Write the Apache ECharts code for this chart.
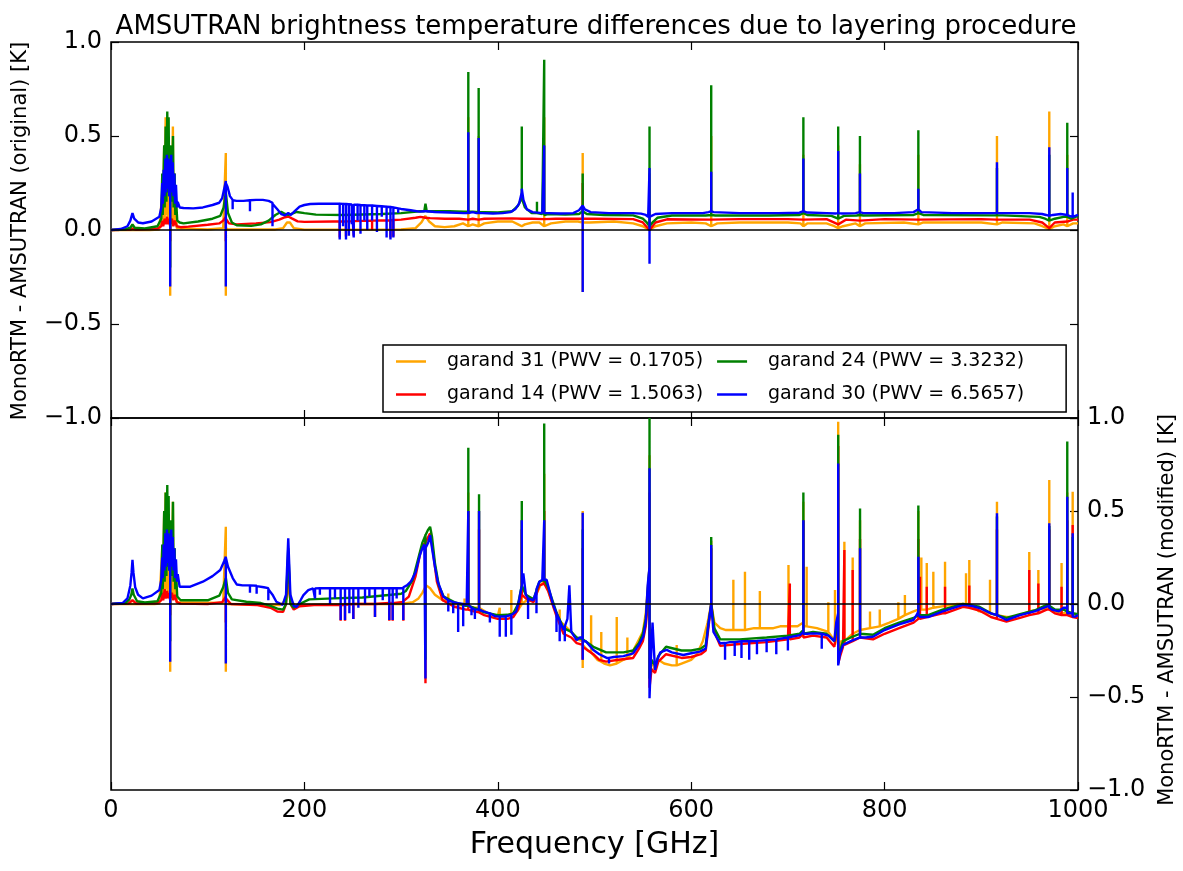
<!DOCTYPE html>
<html><head><meta charset="utf-8">
<script src="https://cdn.jsdelivr.net/npm/echarts/dist/echarts.min.js"></script>
<style>html,body{margin:0;padding:0;background:#fff}#chart{width:1183px;height:871px}</style>
</head><body><div id="chart"></div>
<script>
const SERIES_NAMES = ['garand 31 (PWV = 0.1705)','garand 14 (PWV = 1.5063)','garand 24 (PWV = 3.3232)','garand 30 (PWV = 6.5657)'];
const SERIES_COLORS = ['#FFA500','#FF0000','#008000','#0000FF'];
const X_TICKS = [0,200,400,600,800,1000];
const Y_TICKS = [-1,-0.5,0,0.5,1];
const TITLE = 'AMSUTRAN brightness temperature differences due to layering procedure';
const X_LABEL = 'Frequency [GHz]';
const Y_LABEL_TOP = 'MonoRTM - AMSUTRAN (original) [K]';
const Y_LABEL_BOTTOM = 'MonoRTM - AMSUTRAN (modified) [K]';

// ---- top panel (original) ----
const T_ORANGE = [[0,0],[40,0],[50,0.003],[52,0.01],[53,0.2],[53.5,0.03],[55,0.45],[55.5,0.05],[56.5,0.6],[57,0.08],[58,0.3],[58.5,0.05],[59.5,0.5],[60,0.1],[60.5,0.25],[61.2,0.05],[61.2,-0.35],[61.2,0.1],[62.5,0.35],[63,0.05],[64,0.55],[64.5,0.05],[65.5,0.3],[66,0.03],[67,0.15],[68,0.01],[70,0.003],
[100,0.003],[116,0.01],[118.75,0.41],[118.75,-0.35],[118.75,0.01],[121,0.003],[170,0.003],[178,0.01],[182,0.04],[183.3,0.045],[185,0.04],[189,0.01],[200,0.002],[300,0.003],[315,0.01],[321,0.04],[325,0.075],[329,0.045],[335,0.02],[345,0.015],[355,0.02],[364,0.035],[369.5,0.02],[369.5,0.6],[369.5,0.02],[374,0.03],[380.2,0.02],[380.2,0.5],[380.2,0.02],[386,0.035],[400,0.045],[415,0.045],[421,0.03],[424.8,0.02],[428,0.03],[436,0.04],[443,0.04],[448,0.02],[448,0.6],[448,0.02],[455,0.035],[470,0.045],[483,0.045],[487.8,0.04],[487.8,0.41],[487.8,-0.33],[487.8,0.04],[495,0.04],[520,0.045],[540,0.035],[550,0.02],[556.9,0.0],[556.9,0.3],[556.9,0.0],[563,0.02],[575,0.035],[600,0.04],[615,0.035],[620.7,0.02],[620.7,0.5],[620.7,0.02],[627,0.035],[650,0.04],[700,0.04],[713,0.035],[716,0.02],[716,0.4],[716,0.02],[720,0.035],[740,0.035],[748,0.02],[752,0.01],[752,0.45],[752,0.01],[757,0.02],[770,0.035],[774.5,0.02],[774.5,0.35],[774.5,0.02],[780,0.035],[820,0.04],[834.9,0.03],[834.9,0.4],[834.9,0.03],[840,0.04],[900,0.04],[916.2,0.03],[916.2,0.5],[916.2,0.03],[922,0.04],[955,0.035],[963,0.02],[970.3,0.005],[970.3,0.63],[970.3,0.005],[976,0.02],[985,0.03],[988.9,0.02],[988.9,0.4],[988.9,0.02],[995,0.035],[1000,0.035]];

const T_RED = [[0,0],[20,0.002],[22.2,0.008],[26,0.002],[48,0.008],[52,0.02],[53,0.05],[54,0.02],[55.5,0.06],[56.5,0.03],[58,0.07],[59,0.03],[60,0.06],[61.2,0.02],[61.2,-0.06],[61.2,0.03],[63,0.06],[64.5,0.02],[66,0.05],[68,0.02],[72,0.015],[80,0.018],[100,0.028],[112,0.035],[116,0.05],[118.75,0.07],[118.75,-0.06],[118.75,0.06],[122,0.035],[130,0.03],[150,0.035],[165,0.042],[174,0.055],[180,0.068],[183.3,0.072],[187,0.062],[193,0.046],[200,0.043],[230,0.045],
[236.5,0.045],[236.5,-0.04],[236.5,0.045],[243,0.046],[243,-0.035],[243,0.046],[251,0.047],[251,-0.03],[251,0.047],[270,0.05],[270,0.0],[270,0.05],[289,0.052],[289,-0.04],[289,0.052],[292,0.053],[292,-0.035],[292,0.053],
[300,0.055],[315,0.065],[320,0.07],[325.2,0.065],[330,0.063],[345,0.06],[360,0.06],[369.5,0.055],[374,0.06],[380.2,0.055],[386,0.06],[415,0.062],[424.8,0.06],[435,0.06],[448,0.058],[460,0.06],[487.8,0.06],[487.8,0.25],[487.8,0.06],[500,0.06],[540,0.058],[550,0.04],[556.9,0.0],[563,0.04],[575,0.057],[620.7,0.055],[650,0.058],[700,0.058],[716,0.055],[740,0.058],[752,0.03],[760,0.055],[774.5,0.05],[800,0.058],[834.9,0.055],[900,0.058],[916.2,0.055],[950,0.055],[963,0.04],[970.3,0.01],[976,0.04],[988.9,0.045],[995,0.055],[1000,0.055]];

const T_GREEN = [[0,0],[15,0.004],[20,0.012],[22.2,0.03],[24.5,0.012],[35,0.008],[48,0.02],[52,0.06],[53,0.3],[53.5,0.08],[55,0.45],[55.5,0.12],[56.5,0.55],[57.3,0.15],[58.2,0.63],[58.8,0.2],[59.6,0.6],[60.2,0.18],[61.2,0.4],[61.2,-0.2],[61.2,0.2],[62.3,0.45],[63,0.15],[64.1,0.5],[64.7,0.12],[65.8,0.3],[66.5,0.08],[67.4,0.15],[68.5,0.05],[71,0.04],[75,0.035],[90,0.045],[105,0.06],[113,0.075],[116.5,0.12],[118.75,0.2],[121,0.09],[125,0.04],[130,0.025],[145,0.022],[155,0.03],[163,0.05],[170,0.08],[176,0.097],[180,0.085],[183.3,0.08],[186,0.085],[192,0.096],[200,0.09],[212,0.082],[240,0.08],[280,0.085],[300,0.09],[319,0.1],[324,0.1],[325.2,0.14],[326.5,0.1],[335,0.1],[350,0.1],[365,0.098],[369.5,0.098],[369.5,0.84],[369.5,0.098],[374,0.098],[380.2,0.095],[380.2,0.755],[380.2,0.095],[386,0.095],[400,0.093],[415,0.1],[421,0.13],[424.8,0.17],[424.8,0.55],[424.8,0.17],[428,0.12],[435,0.09],[440.5,0.09],[440.5,0.15],[440.5,0.09],[446,0.085],[448,0.08],[448,0.905],[448,0.08],[452,0.085],[470,0.082],[484,0.085],[487.8,0.1],[487.8,0.3],[487.8,0.1],[492,0.085],[510,0.08],[540,0.078],[550,0.06],[554,0.04],[556.9,0.02],[556.9,0.55],[556.9,0.02],[560,0.04],[565,0.065],[580,0.077],[615,0.077],[620.7,0.08],[620.7,0.77],[620.7,0.08],[625,0.077],[680,0.077],[712,0.08],[716,0.09],[716,0.6],[716,0.09],[720,0.08],[745,0.075],[752,0.06],[752,0.55],[752,0.06],[758,0.075],[771,0.077],[774.5,0.08],[774.5,0.5],[774.5,0.08],[778,0.077],[830,0.08],[834.9,0.09],[834.9,0.53],[834.9,0.09],[840,0.08],[910,0.078],[916.2,0.078],[916.2,0.33],[916.2,0.078],[922,0.078],[960,0.07],[966,0.06],[970.3,0.05],[970.3,0.4],[970.3,0.05],[976,0.06],[985,0.07],[988.9,0.07],[988.9,0.57],[988.9,0.07],[993,0.06],[1000,0.075]];

const T_BLUE = [[0,0],[10,0.005],[17,0.02],[20,0.05],[22.2,0.09],[24,0.06],[28,0.04],[33,0.036],[42,0.045],[50,0.07],[52,0.12],[53,0.25],[53.6,0.14],[54.5,0.32],[55.3,0.18],[56.2,0.38],[57,0.2],[57.8,0.4],[58.5,0.22],[59.4,0.38],[60.2,0.18],[61.2,0.3],[61.2,-0.3],[61.2,0.25],[62.3,0.4],[63,0.2],[63.8,0.36],[64.6,0.18],[65.5,0.3],[66.3,0.14],[67.2,0.24],[68.2,0.12],[69,0.15],[71,0.12],[75,0.117],[85,0.115],[95,0.12],[105,0.133],[112,0.145],[115,0.17],[117.5,0.23],[118.75,0.26],[118.75,-0.3],[118.75,0.25],[120.5,0.23],[123,0.18],[125.8,0.16],[125.8,0.11],[125.8,0.158],[130,0.155],[137,0.155],[143.7,0.158],[143.7,0.1],[143.7,0.158],[150,0.16],[157,0.16],[163,0.155],[167,0.145],[167,0.02],[167,0.14],[172,0.11],[176,0.085],[180,0.078],[183.3,0.09],[186,0.08],[190,0.1],[195,0.124],[200,0.133],[206,0.138],[215,0.14],[230,0.14],
[236.5,0.14],[236.5,-0.05],[236.5,0.14],[240,0.139],[240,0.02],[240,0.139],[243,0.138],[243,-0.05],[243,0.138],[246,0.137],[246,-0.03],[246,0.137],[249,0.136],[249,0.03],[249,0.136],[251,0.135],[251,-0.04],[251,0.135],[255,0.134],[255,0.05],[255,0.134],[258,0.133],[258,-0.02],[258,0.133],[262,0.132],[262,0.05],[262,0.132],[265,0.131],[265,0.0],[265,0.131],[270,0.13],[270,0.05],[270,0.13],[275,0.128],[275,-0.01],[275,0.128],[280,0.126],[280,0.07],[280,0.126],[285,0.124],[285,-0.04],[285,0.124],[289,0.122],[289,-0.05],[289,0.122],[292,0.12],[292,-0.04],[292,0.12],[297,0.115],[297,0.09],[297,0.115],
[300,0.112],[310,0.105],[319,0.098],[324,0.1],[325.2,0.11],[326.5,0.1],[335,0.096],[350,0.093],[365,0.09],[369.5,0.09],[369.5,0.52],[369.5,0.09],[374,0.095],[378,0.09],[380.2,0.09],[380.2,0.49],[380.2,0.09],[384,0.09],[395,0.088],[405,0.09],[413,0.095],[418,0.11],[422,0.14],[424.8,0.2],[424.8,0.22],[426.5,0.16],[430,0.11],[436,0.095],[446,0.09],[448,0.09],[448,0.45],[448,0.09],[452,0.09],[465,0.088],[478,0.09],[484,0.105],[487.8,0.13],[487.8,-0.33],[487.8,0.13],[490,0.11],[496,0.095],[515,0.09],[540,0.09],[548,0.087],[553,0.08],[555.5,0.07],[556.9,0.07],[556.9,0.33],[556.9,-0.18],[556.9,0.07],[559,0.075],[563,0.085],[580,0.09],[612,0.09],[618,0.095],[620.7,0.1],[620.7,0.31],[620.7,0.1],[623,0.095],[650,0.09],[690,0.09],[712,0.092],[716,0.1],[716,0.38],[716,0.1],[720,0.093],[740,0.09],[749,0.088],[752,0.09],[752,0.42],[752,0.09],[756,0.088],[770,0.09],[774.5,0.095],[774.5,0.3],[774.5,0.095],[778,0.09],[810,0.09],[830,0.095],[834.9,0.11],[834.9,0.22],[834.9,0.11],[838,0.095],[870,0.09],[900,0.09],[912,0.09],[916.2,0.09],[916.2,0.36],[916.2,0.09],[920,0.09],[950,0.09],[963,0.085],[967,0.08],[970.3,0.075],[970.3,0.44],[970.3,0.075],[974,0.08],[982,0.085],[988.9,0.08],[988.9,0.33],[988.9,0.08],[991,0.075],[994.5,0.07],[994.5,0.2],[994.5,0.07],[1000,0.08]];

// ---- bottom panel (modified) ----
const B_ORANGE = [[0,0],[45,0],[50,0.002],[52,0.01],[53,0.3],[53.5,0.03],[55,0.5],[55.5,0.05],[56.5,0.6],[57,0.08],[58,0.3],[58.5,0.05],[59.5,0.45],[60,0.1],[60.5,0.25],[61.2,0.05],[61.2,-0.364],[61.2,0.1],[62.5,0.35],[63,0.05],[64,0.55],[64.5,0.05],[65.5,0.3],[66,0.03],[67,0.15],[68,0.01],[70,0.002],
[116,0.005],[118.75,0.415],[118.75,-0.364],[118.75,0.005],[121,0.0],[175,-0.005],[181,0.02],[183.3,0.1],[185.5,0.02],[190,-0.005],[250,0.0],[300,0.0],[312,0.01],[318,0.03],[322,0.06],[326,0.1],[330,0.085],[335,0.05],[343,0.02],[348.8,0.02],[348.8,0.057],[348.8,0.02],[355,0.0],[365.6,-0.01],[365.6,0.03],[365.6,-0.01],[369.5,-0.01],[369.5,0.6],[369.5,-0.01],[375,-0.02],[380.6,-0.02],[380.6,0.5],[380.6,-0.02],[390,-0.05],[400,-0.065],[402,-0.065],[402,-0.02],[402,-0.065],[410,-0.06],[414,-0.055],[414,0.075],[414,-0.055],[420,-0.04],[424.8,0.0],[424.8,0.45],[424.8,0.0],[430,0.02],[437,0.02],[444,0.1],[448,0.12],[448,0.7],[448,0.12],[452,0.08],[458,-0.02],[464,-0.09],[464,-0.03],[464,-0.09],[470,-0.12],[476,-0.15],[482,-0.19],[487.8,-0.2],[487.8,0.5],[487.8,-0.344],[487.8,-0.22],[493,-0.25],[496.5,-0.26],[496.5,-0.06],[496.5,-0.26],[503,-0.3],[507,-0.31],[507,-0.15],[507,-0.31],[510,-0.32],[516,-0.33],[523,-0.32],[523,-0.07],[523,-0.32],[530,-0.3],[534,-0.29],[534,-0.18],[534,-0.29],[538,-0.27],[545,-0.2],[550,-0.15],[553,-0.05],[556.9,0.2],[556.9,0.8],[556.9,-0.4],[559,-0.3],[562,-0.35],[566,-0.3],[572,-0.32],[580,-0.33],[585,-0.33],[585,-0.22],[585,-0.33],[590,-0.32],[600,-0.3],[606,-0.27],[612,-0.2],[617,-0.1],[620.7,0.0],[620.7,0.34],[620.7,0.0],[624,-0.1],[630,-0.13],[636,-0.14],[643.6,-0.14],[643.6,0.13],[643.6,-0.14],[650,-0.14],[655.6,-0.14],[655.6,0.174],[655.6,-0.14],[665,-0.13],[671,-0.13],[671,0.07],[671,-0.13],[685,-0.13],[692,-0.12],[700.6,-0.12],[700.6,0.21],[700.6,-0.12],[710,-0.12],[716,-0.1],[716,0.55],[716,-0.12],[719.4,-0.12],[719.4,0.2],[719.4,-0.12],[730,-0.13],[741.8,-0.15],[741.8,0.01],[741.8,-0.15],[748.7,-0.2],[748.7,0.075],[748.7,-0.22],[752,-0.1],[752,0.98],[752,-0.25],[755,-0.2],[758.4,-0.2],[758.4,0.335],[758.4,-0.2],[767,-0.16],[767,0.25],[767,-0.16],[774.6,-0.14],[774.6,0.45],[774.6,-0.14],[784.9,-0.13],[784.9,-0.04],[784.9,-0.13],[795,-0.12],[795,-0.03],[795,-0.12],[805,-0.1],[814.2,-0.08],[814.2,0.01],[814.2,-0.08],[821,-0.06],[821,0.048],[821,-0.06],[830,-0.04],[834.9,-0.03],[834.9,0.5],[834.9,-0.03],[838,-0.03],[838,0.25],[838,-0.03],[843.6,-0.03],[843.6,0.22],[843.6,-0.03],[850.4,-0.02],[850.4,0.174],[850.4,-0.02],[862.5,-0.01],[862.5,0.227],[862.5,-0.01],[875,0.0],[884.2,0.0],[884.2,0.165],[884.2,0.0],[887.6,0.0],[887.6,0.237],[887.6,0.0],[898,-0.04],[909,-0.05],[909,0.13],[909,-0.05],[916.2,-0.06],[916.2,0.55],[916.2,-0.06],[926,-0.07],[933,-0.07],[945,-0.05],[949.6,-0.04],[949.6,0.28],[949.6,-0.04],[959,-0.03],[959,0.183],[959,-0.03],[967,-0.025],[970.3,-0.02],[970.3,0.667],[970.3,-0.02],[976,-0.04],[983,-0.05],[983,0.22],[983,-0.05],[988.9,-0.05],[988.9,0.6],[988.9,-0.05],[994.5,-0.06],[994.5,0.604],[994.5,-0.06],[1000,-0.065]];

const B_RED = [[0,0],[18,0.003],[22.2,0.02],[26,0.003],[48,0.005],[52,0.02],[53,0.06],[54,0.02],[55.5,0.08],[56.5,0.03],[58,0.07],[59,0.03],[60,0.06],[61.2,0.02],[61.2,-0.06],[61.2,0.03],[63,0.06],[64.5,0.02],[66,0.05],[68,0.01],[72,0.002],[100,0.0],[115,0.01],[118.75,0.04],[118.75,-0.1],[118.75,0.03],[124,0.0],[150,-0.005],[165,-0.02],[172,-0.04],[178,-0.042],[181,0.0],[183.3,0.25],[185.5,0.0],[189,-0.03],[195,-0.012],[210,-0.005],
[237.5,-0.005],[237.5,-0.09],[237.5,-0.005],[242,-0.005],[242,-0.09],[242,-0.005],[250.6,0.0],[250.6,-0.08],[250.6,0.0],[273,0.0],[273,-0.07],[273,0.0],[287.8,0.005],[287.8,-0.09],[287.8,0.005],[291.3,0.005],[291.3,-0.09],[291.3,0.005],[300,0.01],[302.3,0.01],[302.3,-0.09],[302.3,0.015],
[308,0.04],[315,0.15],[320,0.28],[323,0.32],[325.2,0.33],[325.2,-0.426],[325.2,0.33],[328,0.36],[330,0.38],[333,0.28],[337,0.12],[343,0.02],[355,-0.015],[367,-0.03],[369.5,-0.03],[369.5,0.5],[369.5,-0.03],[375,-0.04],[380.6,-0.045],[380.6,0.4],[380.6,-0.045],[386,-0.06],[400,-0.08],[410,-0.08],[416,-0.07],[421,-0.03],[424.8,0.05],[424.8,0.4],[424.8,0.05],[429,0.03],[437,0.01],[443,0.1],[448,0.11],[448,0.5],[448,0.11],[452,0.07],[461,-0.07],[468,-0.16],[476,-0.18],[481.6,-0.21],[487.8,-0.22],[487.8,0.3],[487.8,-0.3],[487.8,-0.23],[498.8,-0.27],[505,-0.3],[512,-0.31],[525,-0.3],[540,-0.29],[546,-0.24],[550,-0.2],[553,-0.12],[556.9,0.1],[556.9,0.6],[556.9,-0.45],[559,-0.35],[562.6,-0.37],[566,-0.31],[574,-0.27],[590,-0.29],[600,-0.285],[610,-0.27],[615,-0.25],[618,-0.12],[620.7,0.0],[620.7,0.3],[620.7,0.0],[624,-0.15],[630,-0.225],[650,-0.215],[678,-0.205],[700,-0.19],[702,-0.19],[702,0.11],[702,-0.19],[712,-0.18],[716,-0.16],[716,0.45],[716,-0.18],[726,-0.17],[740,-0.18],[748,-0.23],[752,-0.1],[752,0.85],[752,-0.32],[754,-0.28],[757,-0.23],[758.4,-0.23],[758.4,0.29],[758.4,-0.22],[767,-0.2],[767,0.183],[767,-0.2],[774.6,-0.18],[774.6,0.35],[774.6,-0.18],[788,-0.19],[800,-0.16],[815,-0.13],[830,-0.1],[834.9,-0.08],[834.9,0.35],[834.9,-0.08],[836.6,-0.08],[836.6,0.147],[836.6,-0.08],[843.6,-0.07],[843.6,0.093],[843.6,-0.07],[860,-0.05],[862.5,-0.05],[862.5,0.093],[862.5,-0.05],[881,-0.015],[887.6,-0.02],[887.6,0.1],[887.6,-0.02],[898,-0.035],[910,-0.07],[916.2,-0.08],[916.2,0.4],[916.2,-0.08],[926,-0.095],[940,-0.075],[949.6,-0.06],[949.6,0.183],[949.6,-0.06],[959,-0.05],[959,0.11],[959,-0.05],[967.6,-0.03],[970.3,-0.03],[970.3,0.4],[970.3,-0.03],[976,-0.05],[983,-0.06],[983,0.093],[983,-0.06],[988.9,-0.06],[988.9,0.45],[988.9,-0.06],[994.5,-0.07],[994.5,0.425],[994.5,-0.07],[1000,-0.075]];

const B_GREEN = [[0,0],[15,0.005],[19,0.025],[21,0.05],[22.2,0.084],[23.5,0.05],[27,0.015],[35,0.008],[48,0.015],[52,0.06],[53,0.32],[53.5,0.08],[55,0.5],[55.5,0.12],[56.5,0.6],[57.3,0.15],[58.2,0.64],[58.8,0.2],[59.6,0.58],[60.2,0.18],[61.2,0.4],[61.2,-0.2],[61.2,0.2],[62.3,0.45],[63,0.15],[64.1,0.55],[64.7,0.12],[65.8,0.3],[66.5,0.08],[67.4,0.15],[68.5,0.04],[72,0.02],[100,0.02],[112,0.045],[116,0.09],[118.75,0.14],[121,0.06],[125,0.025],[140,0.012],[155,0.005],[165,-0.01],[172,-0.025],[178,-0.03],[181,0.0],[183.3,0.3],[185.5,0.0],[189,-0.02],[195,0.0],[205,0.025],[230,0.03],[260,0.035],[290,0.05],[300,0.055],[305,0.07],[312,0.13],[318,0.25],[322,0.33],[325.2,0.37],[325.2,-0.3],[325.2,0.37],[328,0.4],[330,0.415],[332,0.36],[335,0.22],[339,0.1],[344,0.04],[355,0.01],[367,-0.01],[369.5,-0.01],[369.5,0.84],[369.5,-0.01],[375,-0.02],[380.6,-0.03],[380.6,0.59],[380.6,-0.03],[386,-0.045],[400,-0.06],[410,-0.058],[416,-0.05],[421,0.0],[424.8,0.1],[424.8,0.554],[424.8,0.1],[429,0.05],[437,0.025],[443,0.12],[448,0.13],[448,0.97],[448,0.13],[452,0.09],[461,-0.05],[468,-0.13],[476,-0.15],[481.6,-0.18],[487.8,-0.19],[487.8,0.4],[487.8,-0.19],[498.8,-0.23],[512,-0.26],[530,-0.26],[540,-0.25],[546,-0.21],[550,-0.16],[553,-0.08],[556.9,0.2],[556.9,1.0],[556.9,-0.4],[559,-0.3],[562.6,-0.33],[566,-0.28],[574,-0.23],[590,-0.25],[600,-0.25],[610,-0.24],[615,-0.22],[618,-0.1],[620.7,0.0],[620.7,0.36],[620.7,0.0],[624,-0.13],[630,-0.19],[650,-0.19],[678,-0.18],[700,-0.17],[712,-0.16],[716,-0.14],[716,0.6],[716,-0.16],[726,-0.15],[740,-0.16],[748,-0.2],[752,-0.08],[752,0.91],[752,-0.3],[754,-0.25],[757,-0.2],[765,-0.18],[774.6,-0.16],[774.6,0.514],[774.6,-0.16],[788,-0.165],[800,-0.13],[815,-0.1],[830,-0.075],[834.9,-0.06],[834.9,0.53],[834.9,-0.06],[845,-0.06],[860,-0.03],[881,0.0],[898,-0.015],[910,-0.05],[916.2,-0.06],[916.2,0.47],[916.2,-0.06],[926,-0.075],[940,-0.055],[955,-0.035],[967.6,-0.005],[970.3,-0.01],[970.3,0.42],[970.3,-0.01],[976,-0.03],[985,-0.03],[988.9,-0.04],[988.9,0.873],[988.9,-0.04],[994.5,-0.05],[994.5,0.36],[994.5,-0.05],[1000,-0.055]];

const B_BLUE = [[0,0],[12,0.005],[17,0.03],[20,0.1],[21.3,0.17],[22.2,0.237],[23.2,0.17],[25,0.09],[28,0.05],[33,0.03],[42,0.045],[50,0.075],[52,0.13],[53,0.25],[53.6,0.14],[54.5,0.32],[55.3,0.18],[56.2,0.38],[57,0.2],[57.8,0.4],[58.5,0.22],[59.4,0.38],[60.2,0.18],[61.2,0.3],[61.2,-0.31],[61.2,0.25],[62.3,0.4],[63,0.2],[63.8,0.36],[64.6,0.18],[65.5,0.3],[66.3,0.14],[67.2,0.24],[68.2,0.12],[69,0.16],[71,0.093],[82,0.093],[95,0.12],[105,0.15],[113,0.183],[117,0.23],[118.75,0.254],[118.75,-0.32],[118.75,0.25],[121,0.2],[126,0.138],[130,0.105],[136,0.1],
[143.7,0.1],[143.7,0.06],[143.7,0.1],[150.6,0.098],[150.6,0.055],[150.6,0.096],[158,0.09],[162.7,0.085],[162.7,0.02],[162.7,0.08],[167,0.05],[171,0.012],[177.5,-0.005],[181,0.05],[183.3,0.353],[185.5,0.05],[189,-0.01],[192,-0.015],[196,0.02],[199,0.048],[204,0.075],[209,0.084],
[211,0.084],[211,0.03],[211,0.084],[216,0.085],[216,0.05],[216,0.085],[226.5,0.085],[226.5,0.0],[226.5,0.085],[231.6,0.085],[231.6,0.03],[231.6,0.085],[237.5,0.085],[237.5,-0.086],[237.5,0.085],[242,0.085],[242,-0.086],[242,0.085],[246.5,0.085],[246.5,-0.05],[246.5,0.085],[250.6,0.085],[250.6,-0.08],[250.6,0.085],[255.8,0.085],[255.8,-0.02],[255.8,0.085],[262.7,0.085],[262.7,0.0],[262.7,0.085],[267.2,0.085],[267.2,0.04],[267.2,0.085],[273,0.085],[273,-0.07],[273,0.085],[281,0.085],[281,0.02],[281,0.085],[287.8,0.085],[287.8,-0.086],[287.8,0.085],[291.3,0.085],[291.3,-0.086],[291.3,0.085],[295.4,0.085],[295.4,0.03],[295.4,0.085],[300,0.085],[302.3,0.085],[302.3,-0.086],[302.3,0.09],
[306,0.1],[310,0.12],[315,0.17],[319.5,0.263],[322,0.3],[324,0.32],[325.2,0.32],[325.2,-0.4],[325.2,0.3],[327,0.3],[328,0.33],[330,0.37],[332,0.3],[335,0.2],[338,0.12],[343.6,0.04],[348.8,0.02],[348.8,-0.04],[348.8,0.02],[353.9,0.01],[353.9,-0.05],[353.9,0.01],[359,0.005],[359,-0.15],[359,0.005],[364.2,0.0],[364.2,-0.12],[364.2,0.0],[367.8,-0.005],[369.5,-0.005],[369.5,0.5],[369.5,-0.005],[372.8,-0.02],[372.8,-0.06],[372.8,-0.02],[376.3,-0.03],[376.3,-0.08],[376.3,-0.03],[380.6,-0.03],[380.6,0.5],[380.6,-0.03],[385,-0.04],[391.8,-0.05],[391.8,-0.1],[391.8,-0.05],[397,-0.065],[402,-0.068],[402,-0.176],[402,-0.068],[408.3,-0.066],[408.3,-0.176],[408.3,-0.066],[414,-0.06],[414,-0.165],[414,-0.06],[419,-0.04],[422,0.02],[424.8,0.1],[424.8,0.45],[424.8,0.1],[426.4,0.165],[429,0.05],[431.3,0.03],[431.3,-0.08],[431.3,0.03],[436.7,0.02],[440,0.07],[440,-0.05],[440,0.08],[443,0.12],[446,0.13],[448,0.13],[448,0.45],[448,0.13],[450.5,0.13],[453,0.08],[457,0.0],[460.7,-0.05],[460.7,-0.15],[460.7,-0.05],[464,-0.09],[464,-0.2],[464,-0.09],[468,-0.14],[469.3,-0.12],[469.3,-0.2],[469.3,-0.12],[472,-0.08],[474,0.1],[476,-0.15],[481.6,-0.194],[485,-0.18],[487.8,-0.18],[487.8,0.49],[487.8,-0.3],[487.8,-0.2],[491,-0.2],[498.8,-0.247],[505,-0.27],[512.6,-0.29],[515,-0.29],[515,-0.32],[515,-0.29],[520,-0.285],[530,-0.28],[540,-0.265],[546,-0.22],[550.5,-0.175],[553,-0.1],[555,0.1],[556.9,0.2],[556.9,0.73],[556.9,-0.507],[558,-0.34],[560,-0.1],[562.6,-0.355],[565,-0.3],[568,-0.26],[574.6,-0.247],[580,-0.26],[591.8,-0.274],[600,-0.265],[609,-0.256],[615,-0.24],[618,-0.1],[620.7,0.0],[620.7,0.317],[620.7,0.0],[623,-0.15],[629.8,-0.211],[635,-0.21],[635,-0.3],[635,-0.21],[640,-0.205],[645,-0.205],[645,-0.28],[645,-0.205],[652,-0.2],[652,-0.29],[652,-0.2],[660,-0.2],[660,-0.3],[660,-0.2],[668,-0.198],[668,-0.27],[668,-0.198],[678,-0.194],[678,-0.26],[678,-0.194],[688,-0.19],[688,-0.27],[688,-0.19],[700,-0.18],[700,-0.25],[700,-0.18],[712.5,-0.167],[716,-0.15],[716,0.45],[716,-0.16],[720,-0.16],[726,-0.158],[735,-0.16],[735,-0.24],[735,-0.16],[742,-0.17],[748,-0.2],[750,-0.1],[752,-0.05],[752,0.756],[752,-0.33],[753.9,-0.265],[757,-0.22],[765,-0.2],[774.6,-0.18],[774.6,0.3],[774.6,-0.18],[780,-0.18],[788,-0.176],[800,-0.14],[815,-0.11],[829.7,-0.086],[833,-0.06],[834.9,-0.04],[834.9,0.254],[834.9,-0.06],[837,-0.07],[845,-0.07],[860,-0.04],[881,-0.005],[890,-0.01],[898.7,-0.023],[910,-0.05],[916.2,-0.06],[916.2,0.488],[916.2,-0.06],[920,-0.07],[926,-0.086],[940,-0.06],[955,-0.04],[967.6,-0.014],[970.3,-0.01],[970.3,0.434],[970.3,-0.02],[973,-0.03],[980,-0.04],[985,-0.02],[988.9,-0.02],[988.9,0.577],[988.9,-0.05],[991,-0.05],[994.5,-0.05],[994.5,0.38],[994.5,-0.068],[997,-0.068],[1000,-0.06]];

const TOP_DATA = [T_ORANGE, T_RED, T_GREEN, T_BLUE];
const BOTTOM_DATA = [B_ORANGE, B_RED, B_GREEN, B_BLUE];

const FONT = 'DejaVu Sans';
const fmtY = v => (v < 0 ? '\u2212' : '') + Math.abs(v).toFixed(1);
const fmtX = v => String(v);
const tick = {show:true, inside:true, length:8, lineStyle:{color:'#000', width:1.2}};

function xAx(grid, pos, labels){
  const a = {gridIndex:grid, type:'value', position:pos, min:X_TICKS[0], max:X_TICKS[X_TICKS.length-1],
    interval:X_TICKS[1]-X_TICKS[0], axisLine:{show:false, onZero:false}, axisTick:tick, splitLine:{show:false},
    axisLabel:{show:labels, formatter:fmtX, fontFamily:FONT, fontSize:24, color:'#000', margin:9}};
  if (labels) { a.name = X_LABEL; a.nameLocation='middle'; a.nameGap=40;
    a.nameTextStyle={fontFamily:FONT, fontSize:30, color:'#000'}; }
  return a;
}
function yAx(grid, pos, labels){
  return {gridIndex:grid, type:'value', position:pos, min:Y_TICKS[0], max:Y_TICKS[Y_TICKS.length-1],
    interval:Y_TICKS[1]-Y_TICKS[0], axisLine:{show:false, onZero:false}, axisTick:tick, splitLine:{show:false},
    axisLabel:{show:labels, formatter:fmtY, fontFamily:FONT, fontSize:24, color:'#000', margin:9,
      showMinLabel:true, showMaxLabel:true}};
}

const series = [];
for (let i = 0; i < 4; i++) {
  series.push({type:'line', name:SERIES_NAMES[i], xAxisIndex:0, yAxisIndex:0, data:TOP_DATA[i],
    showSymbol:false, symbol:'none', silent:true, lineStyle:{width:2.4, color:SERIES_COLORS[i]},
    itemStyle:{color:SERIES_COLORS[i]}, z:2+i*0.1});
  series.push({type:'line', name:SERIES_NAMES[i], xAxisIndex:2, yAxisIndex:2, data:BOTTOM_DATA[i],
    showSymbol:false, symbol:'none', silent:true, lineStyle:{width:2.4, color:SERIES_COLORS[i]},
    itemStyle:{color:SERIES_COLORS[i]}, z:2+i*0.1});
}
const zeroLine = {silent:true, symbol:'none', data:[{yAxis:0}], label:{show:false},
  lineStyle:{color:'#000', width:1.5, type:'solid'}, animation:false};
series[6].markLine = zeroLine;
series[7].markLine = zeroLine;

const chart = echarts.init(document.getElementById('chart'), null, {renderer:'canvas'});
chart.setOption({
  animation:false,
  backgroundColor:'#fff',
  grid:[
    {left:111, top:42, width:967, height:376, show:true, borderColor:'#000', borderWidth:1.5, backgroundColor:'rgba(0,0,0,0)'},
    {left:111, top:418, width:967, height:372, show:true, borderColor:'#000', borderWidth:1.5, backgroundColor:'rgba(0,0,0,0)'}
  ],
  xAxis:[xAx(0,'bottom',false), xAx(0,'top',false), xAx(1,'bottom',true), xAx(1,'top',false)],
  yAxis:[yAx(0,'left',true), yAx(0,'right',false), yAx(1,'right',true)],
  legend:{
    data:[SERIES_NAMES[0], SERIES_NAMES[2], SERIES_NAMES[1], SERIES_NAMES[3]],
    left:383, top:345, width:700, orient:'horizontal',
    padding:[7,42,8,13], itemGap:14, itemWidth:30, itemHeight:2.5, icon:'rect',
    borderColor:'#000', borderWidth:1.5, backgroundColor:'#fff', borderRadius:0,
    selectedMode:false,
    textStyle:{fontFamily:FONT, fontSize:19, color:'#000', lineHeight:18, padding:[0,0,0,16]}
  },
  graphic:[
    {type:'text', x:596, y:27, silent:true, style:{text:TITLE, fontFamily:FONT, fontSize:26, fill:'#000', align:'center', verticalAlign:'middle'}},
    {type:'text', x:21, y:231, rotation:Math.PI/2, silent:true, style:{text:Y_LABEL_TOP, fontFamily:FONT, fontSize:21, fill:'#000', align:'center', verticalAlign:'middle'}},
    {type:'text', x:1168, y:610, rotation:Math.PI/2, silent:true, style:{text:Y_LABEL_BOTTOM, fontFamily:FONT, fontSize:21, fill:'#000', align:'center', verticalAlign:'middle'}}
  ],
  series:series
});
</script></body></html>
